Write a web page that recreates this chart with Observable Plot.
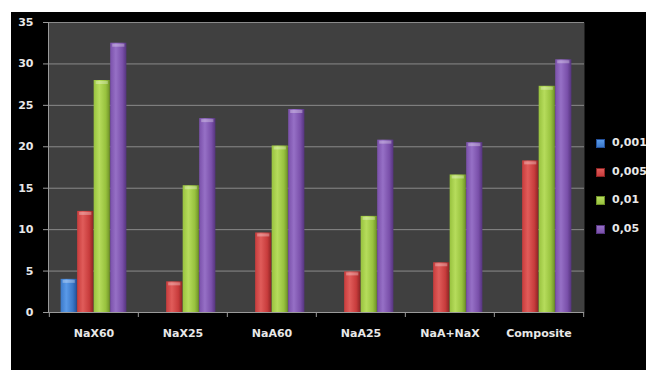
<!DOCTYPE html>
<html>
<head>
<meta charset="utf-8">
<script src="https://cdn.jsdelivr.net/npm/d3@7"></script>
<script src="https://cdn.jsdelivr.net/npm/@observablehq/plot@0.6"></script>
<style>
  html, body { margin: 0; padding: 0; background: #fff; width: 646px; height: 370px; overflow: hidden; }
  #box { position: absolute; left: 11px; top: 12px; width: 635px; height: 358px; background: #000; overflow: hidden; }
  #box svg { display: block; }
  #legend { position: absolute; left: 596px; top: 136px; font-family: "DejaVu Sans", sans-serif; font-weight: bold; font-size: 11px; color: #e8e8e8; }
  .item { position: absolute; left: 0; height: 14px; line-height: 14px; white-space: nowrap; }
  .sw { position: absolute; left: 0; top: 3px; width: 9px; height: 9px; box-sizing: border-box; }
  .lb { position: absolute; left: 16px; top: 0; }
</style>
</head>
<body>
<div id="box"></div>
<div id="legend"></div>
<script>
const categories = ["NaX60", "NaX25", "NaA60", "NaA25", "NaA+NaX", "Composite"];
const series = ["0,001", "0,005", "0,01", "0,05"];
const v0001 = [4.0, null, null, null, null, null];
const v0005 = [12.2, 3.7, 9.6, 4.9, 6.0, 18.3];
const v001 = [28.0, 15.3, 20.1, 11.6, 16.6, 27.3];
const v005 = [32.5, 23.4, 24.5, 20.8, 20.5, 30.5];
const yTicks = [0, 5, 10, 15, 20, 25, 30, 35];

const seriesValues = [v0001, v0005, v001, v005];
const baseColors = ["#3a78c8", "#c83c3c", "#98c23e", "#7a50aa"];
const lightColors = ["#5a9ae8", "#e05c5a", "#b6dc5c", "#9670c6"];
const darkColors = ["#24509a", "#8c2424", "#6e9028", "#55347e"];
const gradIds = series.map((s, i) => `grad${i}`);

const data = [];
categories.forEach((c, ci) => {
  series.forEach((s, si) => {
    const v = seriesValues[si][ci];
    if (v != null) data.push({category: c, series: s, value: v});
  });
});

const W = 635, H = 358, ML = 37, MR = 62, MT = 10, MB = 58;
const step = (W - ML - MR) / categories.length;   // width of one category band
const groupFrac = 0.74;                           // share of the band used by the 4 bars
const barW = step * groupFrac / series.length;
const outer = (step - barW * series.length) / 2;
const axisGrey = "#9a9a9a";

// one bar mark per series, placed inside the category band with insets
const barMarks = series.flatMap((s, k) => {
  const insetLeft = outer + k * barW;
  const insetRight = step - outer - (k + 1) * barW;
  const rows = data.filter(d => d.series === s);
  return [
    Plot.barY(rows, {x: "category", y: "value", fill: "series", insetLeft, insetRight}),
    Plot.tickY(rows, {x: "category", y: "value", stroke: "#fff", strokeOpacity: 0.3, strokeWidth: 3, dy: 2, insetLeft: insetLeft + 2, insetRight: insetRight + 2})
  ];
});

const chart = Plot.plot({
  width: W,
  height: H,
  marginLeft: ML,
  marginRight: MR,
  marginTop: MT,
  marginBottom: MB,
  style: {background: "#000", color: "#e8e8e8", fontFamily: "DejaVu Sans, sans-serif", fontSize: "11px", fontWeight: "bold"},
  x: {domain: categories, padding: 0, label: null},
  y: {domain: [0, 35], label: null},
  color: {domain: series, range: gradIds.map(id => `url(#${id})`)},
  marks: [
    Plot.frame({fill: "#404040"}),
    Plot.gridY(yTicks, {stroke: "#8a8a8a", strokeOpacity: 1}),
    ...barMarks,
    Plot.ruleY([0], {stroke: axisGrey}),
    Plot.frame({anchor: "left", stroke: axisGrey}),
    // category boundary ticks below the x axis
    Plot.axisX(categories, {anchor: "bottom", tickSize: 5, text: null, stroke: axisGrey, dx: -step / 2, label: null}),
    Plot.axisX(categories.slice(-1), {anchor: "bottom", tickSize: 5, text: null, stroke: axisGrey, dx: step / 2, label: null}),
    Plot.axisY(yTicks, {anchor: "left", tickSize: 5, tickPadding: 10, stroke: axisGrey, fill: "#e8e8e8", label: null}),
    Plot.axisX({anchor: "bottom", tickSize: 0, tickPadding: 17, label: null, fill: "#e8e8e8"})
  ]
});

// horizontal shading gradients for the bars
const svg = d3.select(chart);
const defs = svg.insert("defs", ":first-child");
gradIds.forEach((id, i) => {
  const g = defs.append("linearGradient").attr("id", id).attr("x1", 0).attr("x2", 1).attr("y1", 0).attr("y2", 0);
  g.append("stop").attr("offset", "0%").attr("stop-color", baseColors[i]);
  g.append("stop").attr("offset", "35%").attr("stop-color", lightColors[i]);
  g.append("stop").attr("offset", "75%").attr("stop-color", baseColors[i]);
  g.append("stop").attr("offset", "100%").attr("stop-color", darkColors[i]);
});

document.getElementById("box").appendChild(chart);

// legend
const legend = d3.select("#legend");
series.forEach((s, i) => {
  const item = legend.append("div").attr("class", "item").style("top", `${i * 28.7}px`);
  item.append("div").attr("class", "sw")
    .style("background", `linear-gradient(${lightColors[i]}, ${baseColors[i]})`)
    .style("border", `1px solid ${darkColors[i]}`);
  item.append("div").attr("class", "lb").text(s);
});
</script>
</body>
</html>
